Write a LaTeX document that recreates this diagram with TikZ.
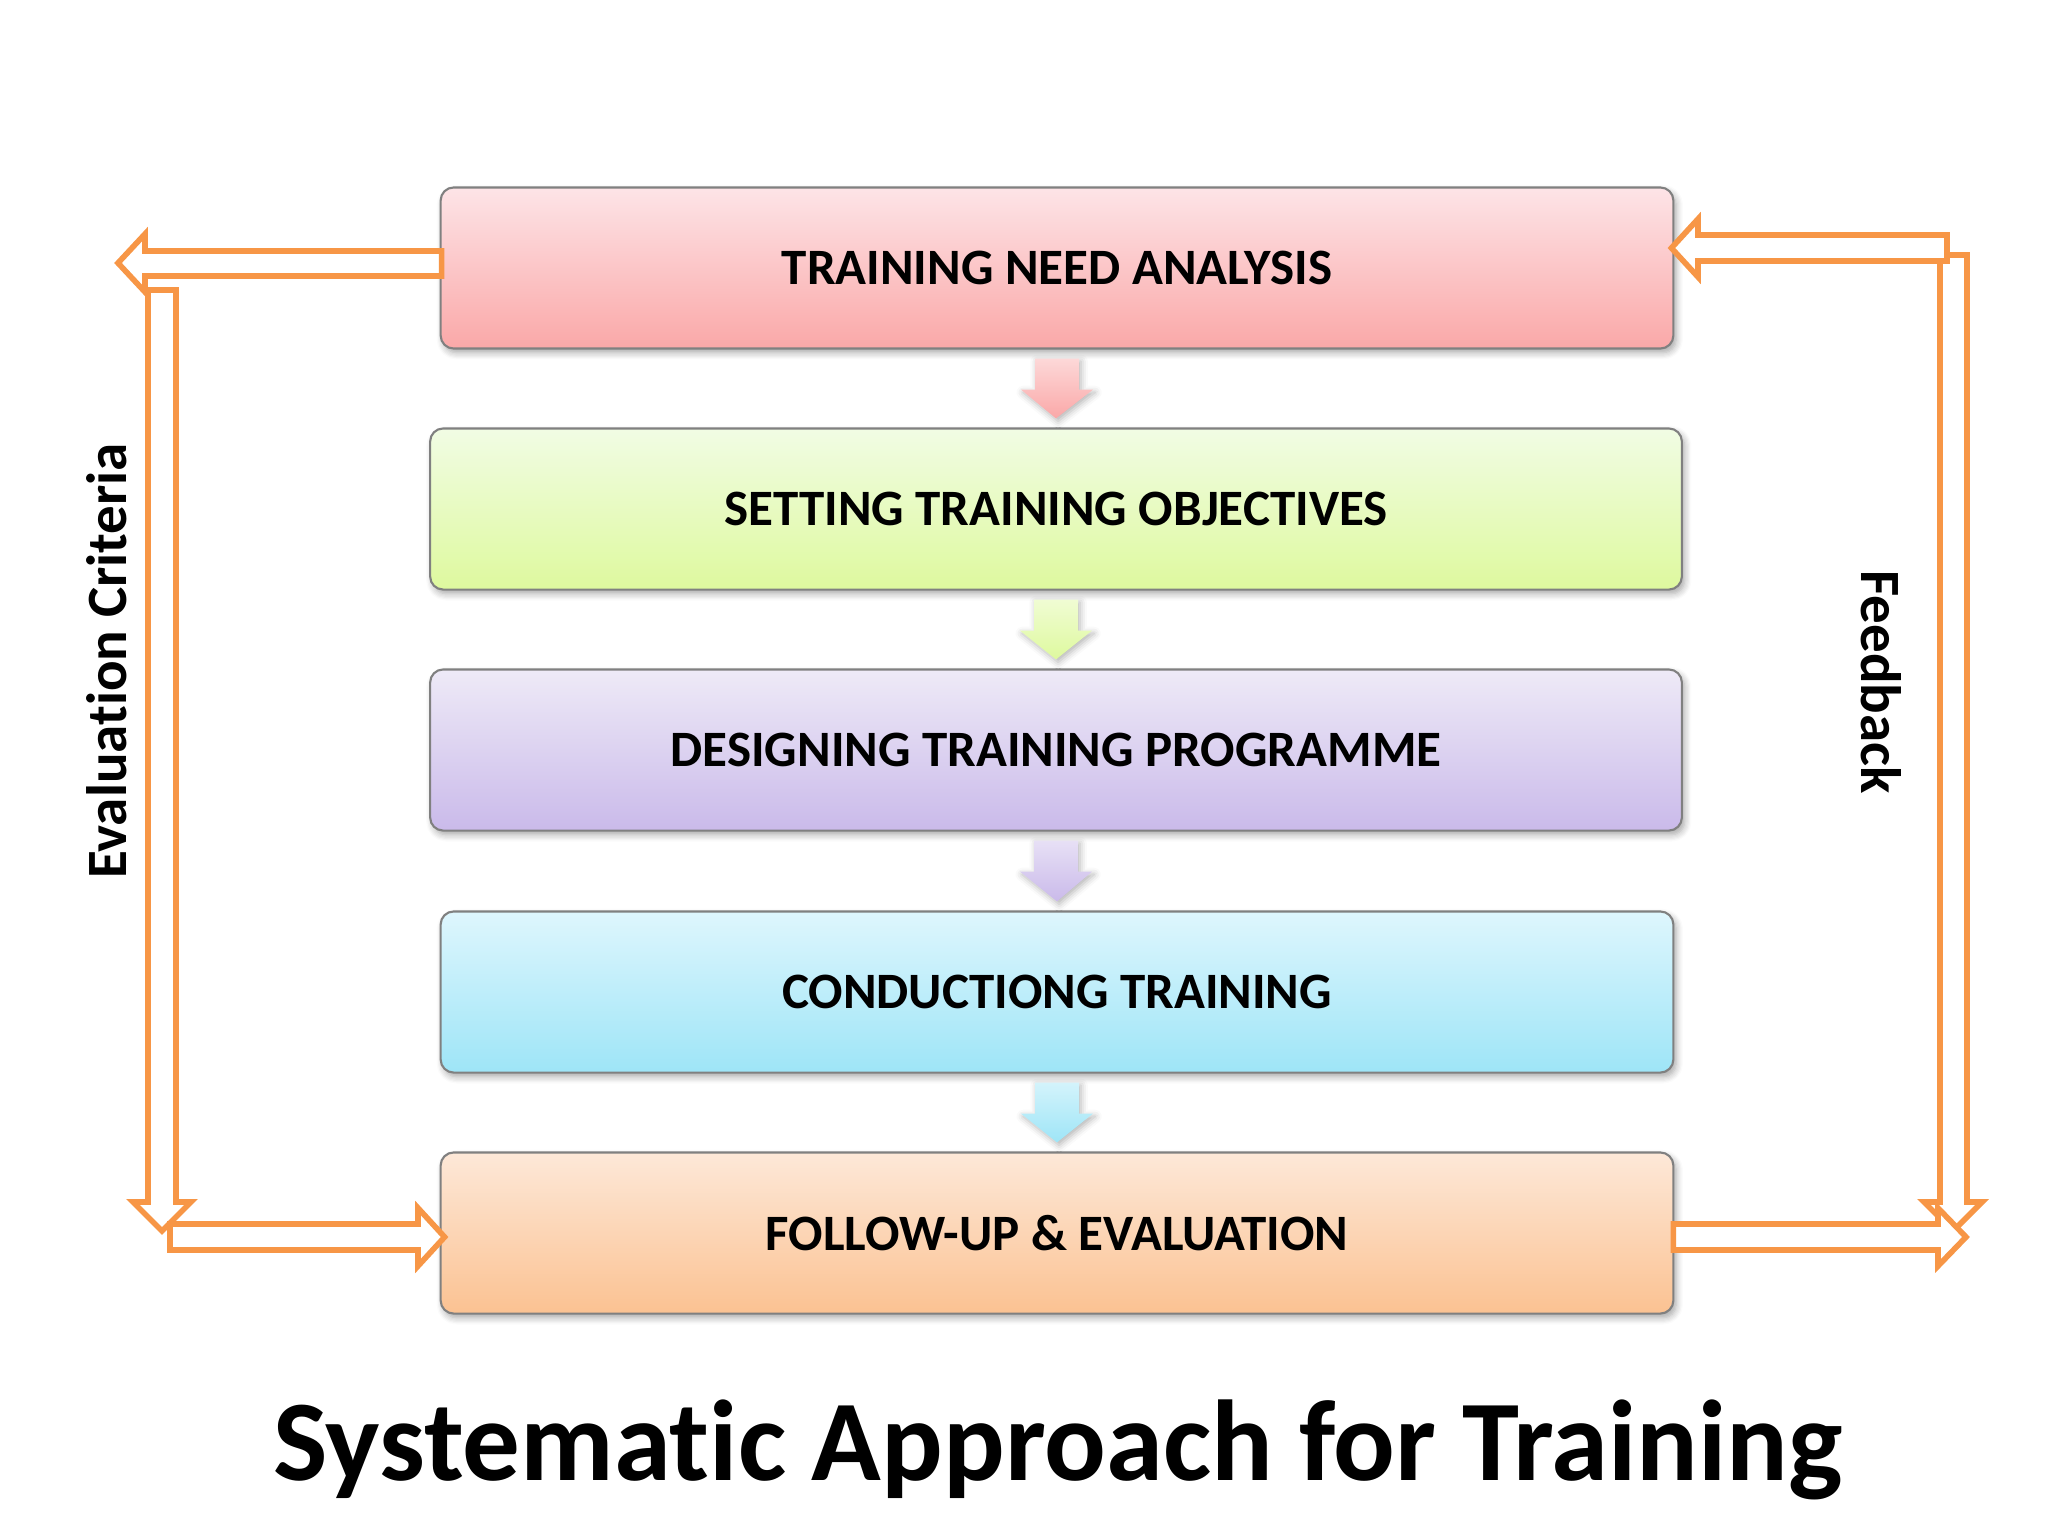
\documentclass[tikz,border=0pt]{standalone}
\usepackage{fontspec}
\setmainfont[Ligatures=NoCommon]{Carlito}
\usetikzlibrary{calc,shadows.blur}

\definecolor{loopline}{RGB}{247,150,70}
\definecolor{tnaTop}{RGB}{253,228,231}
\definecolor{tnaBot}{RGB}{250,168,168}
\definecolor{stoTop}{RGB}{241,252,228}
\definecolor{stoBot}{RGB}{222,249,158}
\definecolor{dtpTop}{RGB}{238,234,247}
\definecolor{dtpBot}{RGB}{202,186,234}
\definecolor{ctTop}{RGB}{222,246,253}
\definecolor{ctBot}{RGB}{158,229,247}
\definecolor{fueTop}{RGB}{253,232,216}
\definecolor{fueBot}{RGB}{251,194,146}

\tikzset{
  stage/.style={draw=black!50, line width=0.6pt, rounded corners=0.13cm,
    minimum width=12.32cm, minimum height=1.61cm, inner sep=0pt,
    font=\fontsize{14.5}{17}\selectfont\bfseries,
    blur shadow={shadow xshift=0.8pt, shadow yshift=-1.2pt, shadow blur steps=6, shadow opacity=35}},
  backarrow/.style={draw=loopline, line width=1.6pt, fill=white, line join=miter},
  sidelabel/.style={font=\fontsize{16.2}{19}\selectfont\bfseries, inner sep=0pt}
}

\begin{document}
\begin{tikzpicture}[x=0.01cm,y=-0.01cm]
                \useasboundingbox (0,0) rectangle (2048,1536);
                \node[stage, top color=tnaTop, bottom color=tnaBot] (tna) at (1057,268) {TRAINING NEED ANALYSIS};
                \node[stage, minimum width=12.51cm, top color=stoTop, bottom color=stoBot] (sto) at (1056,509) {SETTING TRAINING OBJECTIVES};
                \node[stage, minimum width=12.51cm, top color=dtpTop, bottom color=dtpBot] (dtp) at (1056,750) {DESIGNING TRAINING PROGRAMME};
                \node[stage, top color=ctTop, bottom color=ctBot] (ct) at (1057,992) {CONDUCTIONG TRAINING};
                \node[stage, top color=fueTop, bottom color=fueBot] (fue) at (1057,1233) {FOLLOW-UP \& EVALUATION};
                \foreach \a/\b/\c in {tna/sto/tnaBot,sto/dtp/stoBot,dtp/ct/dtpBot,ct/fue/ctBot}
                    \path[top color=\c!45, bottom color=\c,
                          blur shadow={shadow xshift=0.6pt, shadow yshift=-0.8pt, shadow opacity=30}]
                        ($(\a.south)+(-22,9)$) -- ($(\a.south)+(22,9)$) -- ($(\a.south)+(22,40)$)
                        -- ($(\a.south)+(36,40)$) -- ($(\b.north)+(0,-9)$) -- ($(\a.south)+(-36,40)$)
                        -- ($(\a.south)+(-22,40)$) -- cycle;
                \draw[backarrow] (148,290) -- (148,1202) -- (133,1202) -- (162,1231) -- (191,1202) -- (176,1202) -- (176,290) -- cycle;
                \draw[backarrow] (1940,255) -- (1940,1202) -- (1924,1202) -- (1953,1231) -- (1982,1202) -- (1967,1202) -- (1967,255) -- cycle;
                \draw[backarrow] ($(tna.west)+(2,-17)$) -- (145,251) -- (145,234) -- (118,263) -- (145,292) -- (145,276) -- ($(tna.west)+(2,8)$) -- cycle;
                \draw[backarrow] (170,1224) -- (418,1224) -- (418,1208) -- ($(fue.west)+(5,4)$) -- (418,1266) -- (418,1250) -- (170,1250) -- cycle;
                \draw[backarrow] (1947,235) -- (1698,235) -- (1698,219) -- ($(tna.east)+(-3,-20)$) -- (1698,277) -- (1698,261) -- (1947,261) -- cycle;
                \draw[backarrow] ($(fue.east)+(-1,-9)$) -- (1938,1224) -- (1938,1208) -- (1966,1237) -- (1938,1266) -- (1938,1250) -- ($(fue.east)+(-1,17)$) -- cycle;
                \node[sidelabel, rotate=90] (evc) at (107,661) {Evaluation Criteria};
                \node[sidelabel, rotate=-90] (fb) at (1881,682) {Feedback};
                \node[font=\fontsize{32.7}{39}\selectfont\bfseries, anchor=base] (title) at (1058,1480) {Systematic Approach for Training};
            \end{tikzpicture}
\end{document}
